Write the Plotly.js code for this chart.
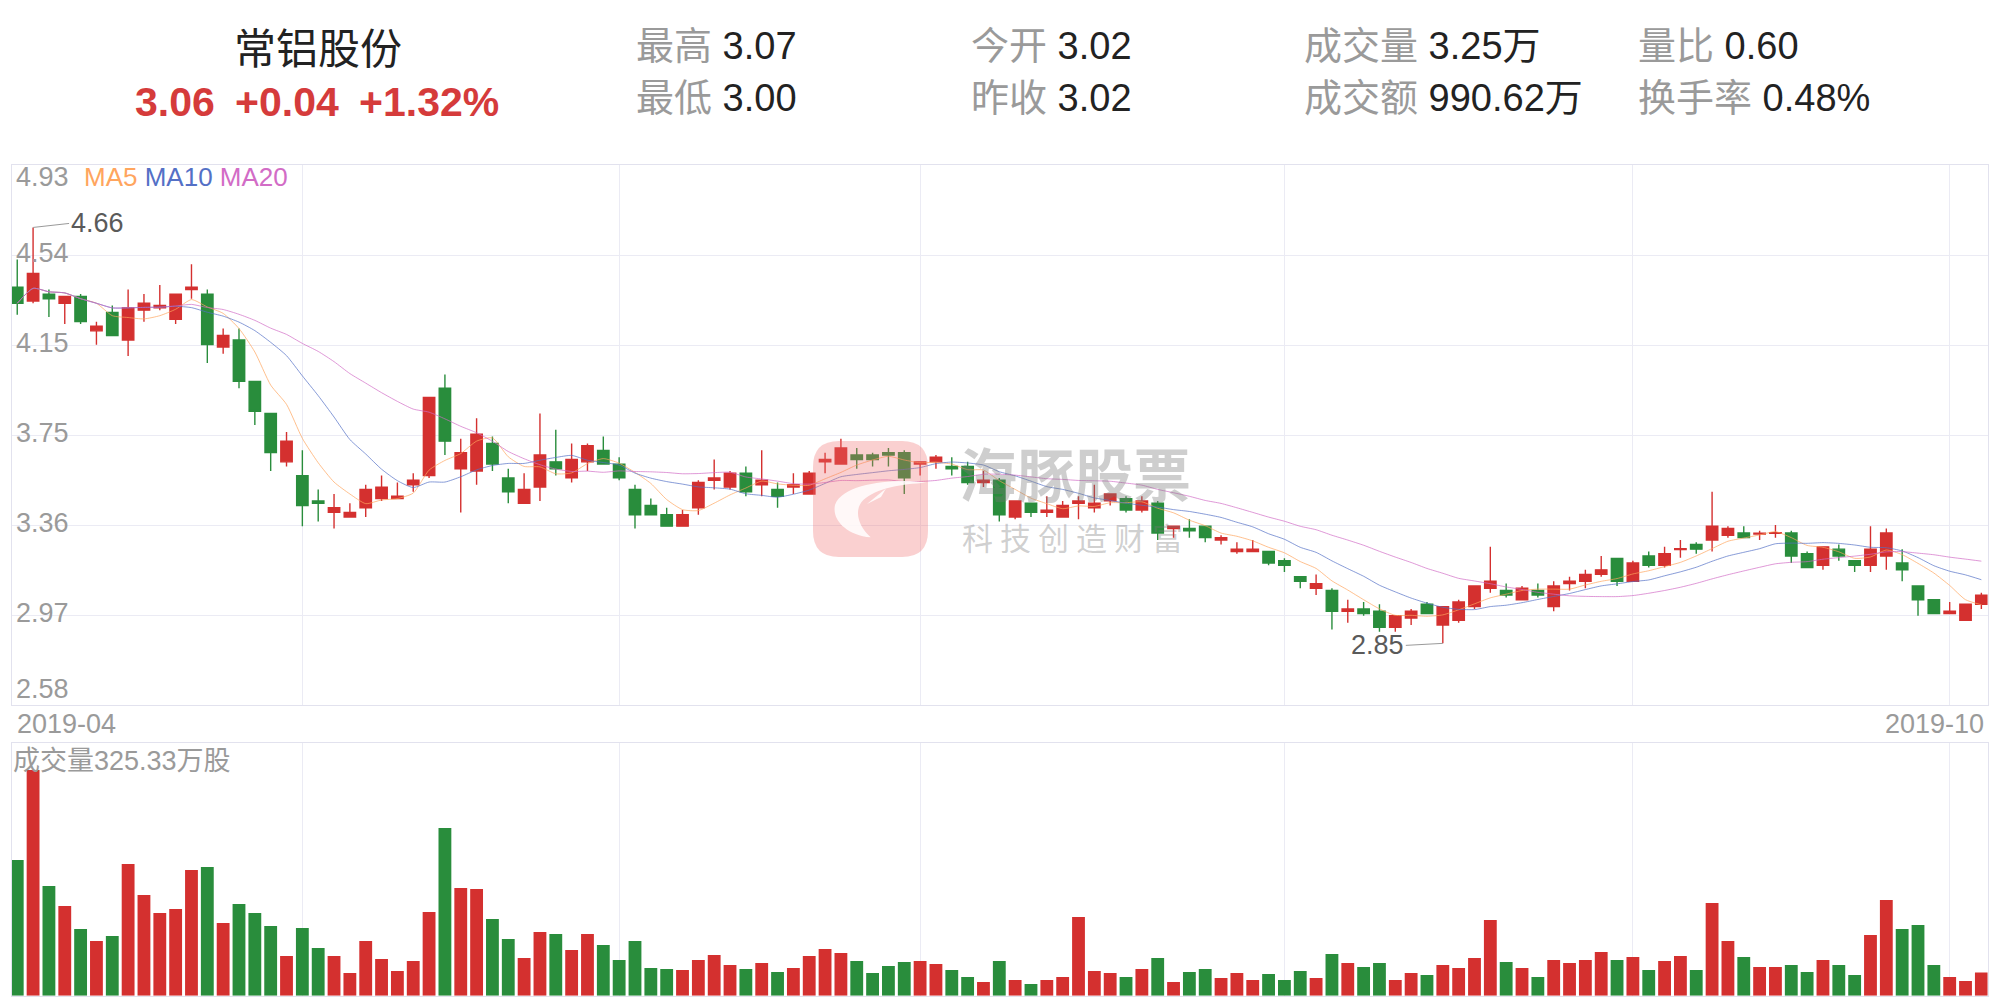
<!DOCTYPE html>
<html>
<head>
<meta charset="utf-8">
<script src="https://cdn.plot.ly/plotly-3.0.1.min.js"></script>
<style>
html,body{margin:0;padding:0;background:#ffffff;}
#chart{width:2001px;height:999px;}
</style>
</head>
<body>
<div id="chart"></div>
<script>
// ---------------- data ----------------
const dates = [
'2019-04-04','2019-04-08','2019-04-09','2019-04-10','2019-04-11','2019-04-12','2019-04-15','2019-04-16','2019-04-17','2019-04-18',
'2019-04-19','2019-04-22','2019-04-23','2019-04-24','2019-04-25','2019-04-26','2019-04-29','2019-04-30',
'2019-05-06','2019-05-07','2019-05-08','2019-05-09','2019-05-10','2019-05-13','2019-05-14','2019-05-15','2019-05-16','2019-05-17',
'2019-05-20','2019-05-21','2019-05-22','2019-05-23','2019-05-24','2019-05-27','2019-05-28','2019-05-29','2019-05-30','2019-05-31',
'2019-06-03','2019-06-04','2019-06-05','2019-06-06','2019-06-10','2019-06-11','2019-06-12','2019-06-13','2019-06-14',
'2019-06-17','2019-06-18','2019-06-19','2019-06-20','2019-06-21','2019-06-24','2019-06-25','2019-06-26','2019-06-27','2019-06-28',
'2019-07-01','2019-07-02','2019-07-03','2019-07-04','2019-07-05','2019-07-08','2019-07-09','2019-07-10','2019-07-11','2019-07-12',
'2019-07-15','2019-07-16','2019-07-17','2019-07-18','2019-07-19','2019-07-22','2019-07-23','2019-07-24','2019-07-25','2019-07-26',
'2019-07-29','2019-07-30','2019-07-31',
'2019-08-01','2019-08-02','2019-08-05','2019-08-06','2019-08-07','2019-08-08','2019-08-09','2019-08-12','2019-08-13','2019-08-14',
'2019-08-15','2019-08-16','2019-08-19','2019-08-20','2019-08-21','2019-08-22','2019-08-23','2019-08-26','2019-08-27','2019-08-28',
'2019-08-29','2019-08-30',
'2019-09-02','2019-09-03','2019-09-04','2019-09-05','2019-09-06','2019-09-09','2019-09-10','2019-09-11','2019-09-12','2019-09-16',
'2019-09-17','2019-09-18','2019-09-19','2019-09-20','2019-09-23','2019-09-24','2019-09-25','2019-09-26','2019-09-27','2019-09-30',
'2019-10-08','2019-10-09','2019-10-10'
];

const open = [
4.40,4.34,4.37,4.33,4.36,4.21,4.29,4.17,4.30,4.31,
4.26,4.39,4.37,4.14,4.17,3.99,3.85,3.64,3.58,3.47,
3.42,3.40,3.44,3.48,3.48,3.54,3.58,3.96,3.61,3.60,
3.72,3.57,3.46,3.53,3.64,3.57,3.64,3.69,3.63,3.52,
3.45,3.41,3.36,3.44,3.56,3.53,3.59,3.54,3.52,3.53,
3.50,3.64,3.63,3.67,3.67,3.68,3.68,3.63,3.64,3.62,
3.62,3.55,3.56,3.40,3.46,3.42,3.40,3.46,3.44,3.47,
3.48,3.43,3.46,3.35,3.35,3.36,3.30,3.25,3.25,3.25,
3.21,3.14,3.09,3.08,2.99,3.00,2.99,2.92,2.96,3.02,
2.93,2.95,3.01,3.09,3.08,3.04,3.08,3.01,3.11,3.12,
3.15,3.22,3.12,3.23,3.19,3.258,3.28,3.30,3.32,3.33,
3.326,3.329,3.33,3.24,3.19,3.26,3.21,3.19,3.23,3.20,
3.10,3.04,2.98,2.95,3.02
];
const high = [
4.52,4.66,4.39,4.36,4.37,4.25,4.32,4.39,4.37,4.41,
4.37,4.50,4.39,4.22,4.22,3.99,3.85,3.77,3.69,3.52,
3.50,3.46,3.54,3.58,3.55,3.59,3.92,4.02,3.74,3.83,
3.75,3.61,3.59,3.85,3.78,3.72,3.72,3.75,3.66,3.54,
3.48,3.44,3.43,3.56,3.65,3.60,3.62,3.69,3.55,3.59,
3.60,3.68,3.74,3.70,3.68,3.70,3.69,3.64,3.67,3.66,
3.64,3.60,3.57,3.47,3.46,3.49,3.47,3.49,3.54,3.50,
3.49,3.49,3.47,3.36,3.39,3.36,3.32,3.29,3.30,3.25,
3.22,3.14,3.15,3.09,3.04,3.03,3.02,2.97,3.00,3.03,
3.01,3.04,3.10,3.27,3.11,3.10,3.11,3.12,3.14,3.17,
3.23,3.22,3.21,3.25,3.27,3.30,3.29,3.51,3.36,3.36,
3.34,3.365,3.34,3.25,3.27,3.28,3.21,3.36,3.35,3.26,
3.10,3.04,3.03,3.02,3.07
];
const low = [
4.28,4.33,4.27,4.24,4.24,4.15,4.19,4.10,4.25,4.30,
4.24,4.35,4.07,4.11,3.96,3.80,3.60,3.62,3.36,3.38,
3.35,3.40,3.40,3.47,3.48,3.51,3.57,3.67,3.42,3.54,
3.60,3.46,3.46,3.47,3.58,3.55,3.60,3.63,3.56,3.35,
3.41,3.36,3.36,3.41,3.52,3.52,3.49,3.49,3.44,3.50,
3.50,3.59,3.63,3.61,3.62,3.62,3.50,3.58,3.61,3.58,
3.54,3.53,3.38,3.39,3.40,3.40,3.40,3.39,3.42,3.45,
3.42,3.42,3.30,3.31,3.31,3.29,3.28,3.24,3.25,3.19,
3.16,3.09,3.06,2.91,2.94,2.97,2.90,2.90,2.93,2.98,
2.85,2.94,3.00,3.07,3.05,3.04,3.05,2.99,3.08,3.09,
3.14,3.10,3.12,3.18,3.18,3.223,3.24,3.25,3.31,3.31,
3.30,3.31,3.20,3.18,3.17,3.21,3.16,3.16,3.17,3.12,
2.97,2.98,2.98,2.95,3.00
];
const close = [
4.33,4.46,4.35,4.36,4.25,4.23,4.19,4.31,4.33,4.32,
4.37,4.40,4.15,4.19,3.99,3.86,3.68,3.73,3.45,3.46,
3.44,3.42,3.52,3.53,3.49,3.56,3.92,3.73,3.68,3.76,
3.63,3.51,3.52,3.67,3.61,3.65,3.71,3.63,3.57,3.41,
3.41,3.36,3.41,3.55,3.57,3.59,3.51,3.56,3.49,3.54,
3.59,3.65,3.70,3.65,3.65,3.67,3.57,3.64,3.66,3.61,
3.55,3.56,3.41,3.47,3.42,3.43,3.45,3.47,3.46,3.50,
3.43,3.47,3.33,3.36,3.34,3.31,3.31,3.26,3.26,3.20,
3.19,3.12,3.11,2.99,3.00,2.98,2.92,2.97,2.99,2.98,
3.01,3.03,3.10,3.12,3.06,3.09,3.06,3.10,3.12,3.15,
3.17,3.12,3.20,3.19,3.24,3.262,3.26,3.36,3.35,3.31,
3.329,3.332,3.23,3.18,3.27,3.23,3.19,3.26,3.33,3.17,
3.04,2.98,2.99,3.02,3.06
];
// volume in 万股
const volume = [
1895,3153,1532,1253,931,764,834,1840,1406,1155,
1211,1756,1798,1015,1281,1155,973,554,945,666,
554,317,764,512,345,484,1169,2342,1504,1490,
1071,792,526,889,862,638,862,708,498,764,
387,373,359,498,568,428,373,456,331,387,
554,652,596,484,317,414,470,484,442,359,
261,191,484,219,163,219,261,1099,345,317,
261,373,526,191,331,373,247,317,219,303,
219,345,247,582,456,400,456,219,317,289,
428,387,526,1057,470,387,261,498,456,498,
610,498,540,359,484,554,359,1295,764,540,
400,400,428,331,498,428,289,848,1337,931,
987,428,261,205,325.33
];

const monthStarts = ['2019-05-06','2019-06-03','2019-07-01','2019-08-01','2019-09-02','2019-10-08'];
const xEdgeLabels = ['2019-04','2019-10'];
const priceTickLabels = ['2.58','2.97','3.36','3.75','4.15','4.54','4.93'];
const maPeriods = [5,10,20];
const maNames = ['MA5','MA10','MA20'];

const stockName = '常铝股份';
const quoteTexts = ['3.06','+0.04','+1.32%'];
const statLabels = ['最高','最低','今开','昨收','成交量','成交额','量比','换手率'];
const statValues = ['3.07','3.00','3.02','3.02','3.25万','990.62万','0.60','0.48%'];
const volumeLabel = '成交量325.33万股';
const brandName = '海豚股票';
const brandSlogan = '科技创造财富';

// ---------------- styles ----------------
const W = 2001, H = 999;
const RED = '#d4302f', GREEN = '#298d3c';
const MA_COLORS = ['#ffa55e', '#5470c6', '#d26cc6'];
const GRID = '#ebebf4', BORDER = '#e2e2ee';
const FONT = '"Liberation Sans", Arial, "Noto Sans CJK SC", sans-serif';
const CJK = '"Noto Sans CJK SC", "Liberation Sans", sans-serif';

const PMIN = 2.58, PMAX = 4.93;
const priceTickVals = priceTickLabels.map((_, k) => PMIN + k * (PMAX - PMIN) / 6);

function movingAverage(arr, n) {
  return arr.map((_, i) => {
    const s = Math.max(0, i - n + 1);
    const w = arr.slice(s, i + 1);
    return w.reduce((a, b) => a + b, 0) / w.length;
  });
}

const px = x => x / W;
const py = y => 1 - y / H;

// ---------------- traces ----------------
const traces = [];
traces.push({
  type: 'candlestick', x: dates, open: open, high: high, low: low, close: close,
  xaxis: 'x', yaxis: 'y',
  increasing: {line: {color: RED, width: 1.4}, fillcolor: RED},
  decreasing: {line: {color: GREEN, width: 1.4}, fillcolor: GREEN},
  whiskerwidth: 0, hoverinfo: 'skip', showlegend: false
});
maPeriods.forEach((n, k) => {
  traces.push({
    type: 'scatter', mode: 'lines', x: dates, y: movingAverage(close, n),
    xaxis: 'x', yaxis: 'y',
    line: {color: MA_COLORS[k], width: 1, shape: 'spline', smoothing: 0.6},
    opacity: 0.7, hoverinfo: 'skip', showlegend: false
  });
});
traces.push({
  type: 'bar', x: dates, y: volume, xaxis: 'x2', yaxis: 'y2',
  marker: {color: close.map((c, i) => c > open[i] ? RED : GREEN), line: {width: 0}},
  hoverinfo: 'skip', showlegend: false
});

// ---------------- annotations ----------------
const ann = [];
function textAt(text, x, y, opt) {
  ann.push(Object.assign({
    xref: 'paper', yref: 'paper', x: px(x), y: py(y), text: text, showarrow: false,
    xanchor: 'left', yanchor: 'middle', font: {family: FONT, size: 27, color: '#999999'}
  }, opt || {}));
}

// header
textAt(stockName, 318, 46, {xanchor: 'center', font: {family: CJK, size: 42, color: '#222222'}});
const quoteLefts = [133, 233, 357];
quoteTexts.forEach((t, i) => textAt('<b>' + t + '</b>', quoteLefts[i], 102, {font: {family: FONT, size: 41, color: '#d53b3b'}}));
const colLefts = [634, 969, 1302, 1636];
const rowYs = [46, 98];
statLabels.forEach((lab, i) => {
  const col = Math.floor(i / 2), row = i % 2;
  textAt('<span style="color:#9a9a9a">' + lab + '</span> <span style="color:#222222">' + statValues[i] + '</span>',
    colLefts[col], rowYs[row], {font: {family: FONT, size: 38, color: '#222222'}});
});

// price tick labels (inside the plot, left)
priceTickLabels.forEach((lab, k) => {
  let shift = 2.5;
  if (k === 0) shift = 16;
  if (k === priceTickLabels.length - 1) shift = -11.6;
  ann.push({xref: 'paper', yref: 'y', x: px(14), y: priceTickVals[k], text: lab, showarrow: false,
    xanchor: 'left', yanchor: 'middle', yshift: shift, font: {family: FONT, size: 27, color: '#9a9a9a'}});
});

// MA legend
textAt(maNames.map((m, k) => '<span style="color:' + MA_COLORS[k] + '">' + m + '</span>').join(' '), 82, 177,
  {font: {family: FONT, size: 26, color: '#999'}});

// x edge labels
textAt(xEdgeLabels[0], 15, 724, {font: {family: FONT, size: 27, color: '#9a9a9a'}});
textAt(xEdgeLabels[1], 1986, 724, {xanchor: 'right', font: {family: FONT, size: 27, color: '#9a9a9a'}});

// volume label
textAt(volumeLabel, 11, 761, {font: {family: FONT, size: 27, color: '#9a9a9a'}});

// max / min markers
const maxHigh = Math.max(...high), iMax = high.indexOf(maxHigh);
const minLow = Math.min(...low), iMin = low.indexOf(minLow);
ann.push({xref: 'x', yref: 'y', x: dates[iMax], y: maxHigh, text: maxHigh.toFixed(2), showarrow: true,
  arrowhead: 0, arrowwidth: 1, arrowcolor: '#9a9a9a', ax: 36, ay: -4, xanchor: 'left', yanchor: 'middle',
  font: {family: FONT, size: 27, color: '#5a5a5a'}});
ann.push({xref: 'x', yref: 'y', x: dates[iMin], y: minLow, text: minLow.toFixed(2), showarrow: true,
  arrowhead: 0, arrowwidth: 1, arrowcolor: '#9a9a9a', ax: -37, ay: 2, xanchor: 'right', yanchor: 'middle',
  font: {family: FONT, size: 27, color: '#5a5a5a'}});

// watermark text
textAt('<b>' + brandName + '</b>', 1075, 472, {xanchor: 'center', font: {family: CJK, size: 58, color: 'rgba(120,120,120,0.36)'}});
textAt('<span style="letter-spacing:7px">' + brandSlogan + '</span>', 1076, 536, {xanchor: 'center', font: {family: CJK, size: 31, color: 'rgba(120,120,120,0.36)'}});

// ---------------- watermark logo shapes ----------------
function path(segs) {
  return segs.map(s => s[0] + (s.length > 1 ? ' ' + s.slice(1).map(p => px(p[0]).toFixed(5) + ',' + py(p[1]).toFixed(5)).join(' ') : '')).join(' ');
}
const lx0 = 813, lx1 = 928, ly0 = 441, ly1 = 557, lr = 26;
const rectPath = path([
  ['M', [lx0 + lr, ly0]], ['L', [lx1 - lr, ly0]], ['Q', [lx1, ly0], [lx1, ly0 + lr]],
  ['L', [lx1, ly1 - lr]], ['Q', [lx1, ly1], [lx1 - lr, ly1]], ['L', [lx0 + lr, ly1]],
  ['Q', [lx0, ly1], [lx0, ly1 - lr]], ['L', [lx0, ly0 + lr]], ['Q', [lx0, ly0], [lx0 + lr, ly0]], ['Z']
]);
const crescentPath = path([
  ['M', [926.7, 482.7]],
  ['C', [900, 478.3], [843.3, 481.7], [835, 505]],
  ['C', [831.7, 520], [846.7, 535], [870.7, 537.3]],
  ['C', [858.3, 526.7], [853.3, 510], [863.3, 500]],
  ['C', [876.7, 488.3], [900, 484], [926.7, 482.7]],
  ['Z']
]);
const finPath = path([['M', [867, 504]], ['L', [886, 488.5]], ['L', [881, 497]], ['Z']]);
const shapes = [
  {type: 'path', xref: 'paper', yref: 'paper', path: rectPath, fillcolor: 'rgba(240,110,110,0.32)', line: {width: 0}, layer: 'above'},
  {type: 'path', xref: 'paper', yref: 'paper', path: crescentPath, fillcolor: 'rgba(255,255,255,0.85)', line: {width: 0}, layer: 'above'},
  {type: 'path', xref: 'paper', yref: 'paper', path: finPath, fillcolor: 'rgba(255,255,255,0.85)', line: {width: 0}, layer: 'above'}
];

// ---------------- layout ----------------
const xDomain = [11.7 / W, 1987.7 / W];
const xCommon = {
  domain: xDomain, type: 'category', range: [-0.35, 124.4],
  tickvals: monthStarts, showticklabels: false, ticks: '',
  showgrid: true, gridcolor: GRID, gridwidth: 1,
  showline: true, mirror: true, linecolor: BORDER, linewidth: 1,
  zeroline: false, fixedrange: true
};
const layout = {
  width: W, height: H,
  margin: {l: 0, r: 0, t: 0, b: 0, pad: 0},
  paper_bgcolor: '#ffffff', plot_bgcolor: '#ffffff',
  showlegend: false, hovermode: false,
  boxgap: 0.28, boxgroupgap: 0, bargap: 0.19,
  xaxis: Object.assign({}, xCommon, {anchor: 'y', rangeslider: {visible: false}}),
  xaxis2: Object.assign({}, xCommon, {anchor: 'y2', matches: 'x'}),
  yaxis: {
    domain: [py(705.4), py(165.4)], range: [PMIN, PMAX], tickvals: priceTickVals,
    showticklabels: false, ticks: '', showgrid: true, gridcolor: GRID,
    showline: true, mirror: true, linecolor: BORDER, zeroline: false, fixedrange: true, anchor: 'x'
  },
  yaxis2: {
    domain: [py(995.7), py(743.3)], range: [0, 3526],
    showticklabels: false, ticks: '', showgrid: false,
    showline: true, mirror: true, linecolor: BORDER, zeroline: false, fixedrange: true, anchor: 'x2'
  },
  annotations: ann,
  shapes: shapes
};

Plotly.newPlot('chart', traces, layout, {displayModeBar: false, staticPlot: true});
</script>
</body>
</html>
